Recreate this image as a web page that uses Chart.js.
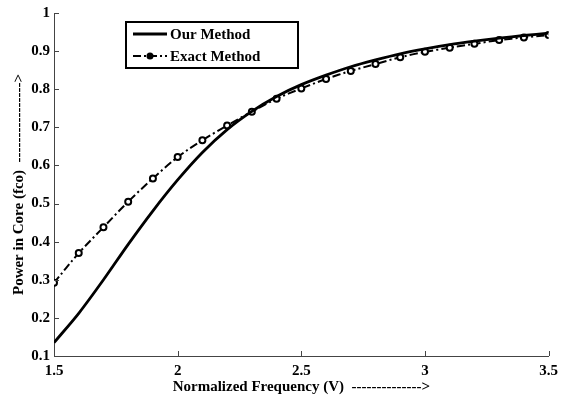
<!DOCTYPE html>
<html>
<head>
<meta charset="utf-8">
<script src="https://cdn.jsdelivr.net/npm/chart.js@4"></script>
<style>
  html, body { margin: 0; padding: 0; background: #fff; }
  #wrap { width: 564px; height: 402px; }
</style>
</head>
<body>
<div id="wrap"><canvas id="grafico" width="564" height="402"></canvas></div>
<script>
// datos
const frecuencias = [1.5, 1.6, 1.7, 1.8, 1.9, 2.0, 2.1, 2.2, 2.3, 2.4, 2.5, 2.6, 2.7, 2.8, 2.9, 3.0, 3.1, 3.2, 3.3, 3.4, 3.5]
const ourMethod = [0.135, 0.212, 0.300, 0.393, 0.481, 0.562, 0.634, 0.694, 0.742, 0.781, 0.812, 0.837, 0.859, 0.877, 0.893, 0.906, 0.917, 0.926, 0.934, 0.941, 0.947]
const exactMethod = [0.292, 0.370, 0.438, 0.505, 0.566, 0.622, 0.666, 0.705, 0.741, 0.775, 0.802, 0.827, 0.848, 0.866, 0.884, 0.898, 0.909, 0.919, 0.929, 0.936, 0.942]
const nombres = ["Our Method", "Exact Method"]
const xTitulo = "Normalized Frequency (V)  -------------->"
const yTitulo = "Power in Core (fco)  ---------------->"

const fuente = "'Liberation Serif', 'Times New Roman', serif"

function puntos(ys) {
    return frecuencias.map((x, i) => ({ x: x, y: ys[i] }))
}

function etiqueta(v) {
    return String(Number(v.toFixed(1)))
}

// ticks hacia adentro, como en matlab
const ticksAdentro = {
    id: "ticksAdentro",
    afterDraw(chart) {
        const ctx = chart.ctx
        const area = chart.chartArea
        const sx = chart.scales.x
        const sy = chart.scales.y
        ctx.save()
        ctx.strokeStyle = "#444"
        ctx.lineWidth = 1
        ctx.beginPath()
        sx.ticks.forEach((t) => {
            const px = Math.round(sx.getPixelForValue(t.value)) + 0.5
            ctx.moveTo(px, area.bottom)
            ctx.lineTo(px, area.bottom - 5)
        })
        sy.ticks.forEach((t) => {
            const py = Math.round(sy.getPixelForValue(t.value)) + 0.5
            ctx.moveTo(area.left, py)
            ctx.lineTo(area.left + 5, py)
        })
        ctx.stroke()
        ctx.restore()
    }
}

// leyenda con caja dentro del area
const leyendaCaja = {
    id: "leyendaCaja",
    afterDraw(chart) {
        const ctx = chart.ctx
        const left = 126, top = 22, w = 172, h = 46
        ctx.save()
        ctx.fillStyle = "#fff"
        ctx.fillRect(left, top, w, h)
        ctx.strokeStyle = "#000"
        ctx.lineWidth = 2
        ctx.strokeRect(left, top, w, h)
        ctx.font = "bold 15px " + fuente
        ctx.textBaseline = "middle"
        ctx.fillStyle = "#000"
        chart.data.datasets.forEach((ds, i) => {
            const cy = top + 12 + i * 22
            ctx.strokeStyle = "#000"
            ctx.lineWidth = ds.borderWidth
            ctx.setLineDash(ds.borderDash || [])
            ctx.beginPath()
            ctx.moveTo(left + 7, cy)
            ctx.lineTo(left + 41, cy)
            ctx.stroke()
            ctx.setLineDash([])
            if (ds.pointRadius > 0) {
                ctx.beginPath()
                ctx.arc(left + 24, cy, 3.5, 0, Math.PI * 2)
                ctx.fillStyle = "#000"
                ctx.fill()
            }
            ctx.fillStyle = "#000"
            ctx.fillText(ds.label, left + 44, cy + 1)
        })
        ctx.restore()
    }
}

const grafico = document.getElementById("grafico")

new Chart(grafico, {
    type: "line",
    data: {
        datasets: [{
            label: nombres[0],
            data: puntos(ourMethod),
            borderColor: "#000",
            borderWidth: 2.8,
            pointRadius: 0,
            tension: 0.3,
            fill: false
        }, {
            label: nombres[1],
            data: puntos(exactMethod),
            borderColor: "#000",
            borderWidth: 2,
            borderDash: [8, 3, 2, 3],
            pointRadius: 3,
            pointBorderWidth: 2,
            pointBackgroundColor: "#fff",
            pointBorderColor: "#000",
            tension: 0.3,
            fill: false
        }]
    },
    options: {
        responsive: false,
        animation: false,
        layout: { padding: { top: 10, right: 10, left: 0, bottom: 0 } },
        plugins: {
            legend: { display: false },
            tooltip: { enabled: false }
        },
        scales: {
            x: {
                type: "linear",
                min: 1.5,
                max: 3.5,
                afterFit: (s) => { s.height = 46 },
                border: { display: true, color: "#444", width: 1 },
                grid: { display: true, drawOnChartArea: false, drawTicks: false },
                ticks: {
                    stepSize: 0.5,
                    padding: 6,
                    color: "#000",
                    maxRotation: 0,
                    font: { family: fuente, size: 15, weight: "bold" },
                    callback: (v) => etiqueta(v)
                },
                title: {
                    display: true,
                    text: xTitulo,
                    color: "#000",
                    font: { family: fuente, size: 15, weight: "bold" },
                    padding: { top: 0, bottom: 6 }
                }
            },
            y: {
                type: "linear",
                min: 0.1,
                max: 1,
                afterFit: (s) => { s.width = 54 },
                border: { display: true, color: "#444", width: 1 },
                grid: { display: true, drawOnChartArea: false, drawTicks: false },
                ticks: {
                    stepSize: 0.1,
                    padding: 4,
                    color: "#000",
                    font: { family: fuente, size: 15, weight: "bold" },
                    callback: (v) => etiqueta(v)
                },
                title: {
                    display: true,
                    text: yTitulo,
                    color: "#000",
                    font: { family: fuente, size: 15, weight: "bold" },
                    padding: { top: 10, bottom: 0 }
                }
            }
        }
    },
    plugins: [ticksAdentro, leyendaCaja]
})
</script>
</body>
</html>
